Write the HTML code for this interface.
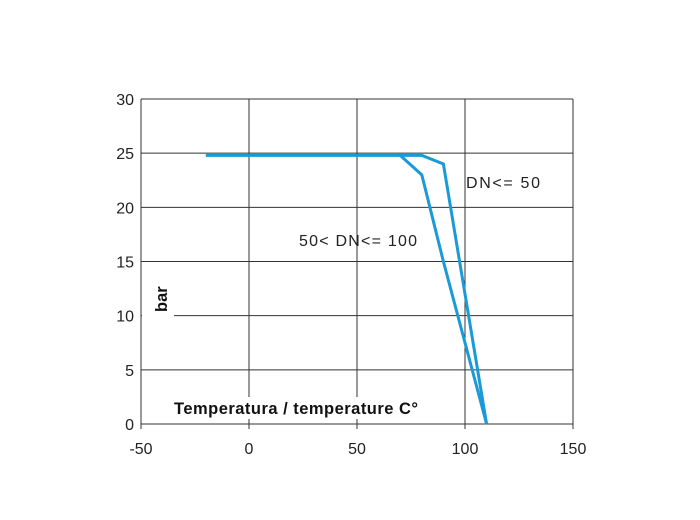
<!DOCTYPE html>
<html><head><meta charset="utf-8"><style>body{margin:0;background:#fff}svg{display:block}</style></head>
<body>
<svg id="chart" width="700" height="520" xmlns="http://www.w3.org/2000/svg" font-family="Liberation Sans, sans-serif">
<g id="grid"></g>
<g id="series"></g>
<g id="labels"></g>
</svg>
<script>
const xTicks=[-50,0,50,100,150];
const yTicks=[0,5,10,15,20,25,30];
const s1x=[-20,80,90,110];
const s1y=[24.8,24.8,24,0];
const s2x=[70,80,90,110];
const s2y=[24.8,23,15,0];
const X=v=>141+(v+50)*2.16;
const Y=v=>424-v*(325/30);
const NS='http://www.w3.org/2000/svg';
function mk(t,a,p){const e=document.createElementNS(NS,t);for(const k in a)e.setAttribute(k,a[k]);p.appendChild(e);return e;}
const g=document.getElementById('grid'),sg=document.getElementById('series'),lg=document.getElementById('labels');
xTicks.forEach(v=>{
 const l=mk('line',{x1:X(v),x2:X(v),y1:Y(30),y2:Y(0)+5,stroke:'#333','stroke-width':1},g);
 
 
 const t=mk('text',{x:X(v),y:454,'text-anchor':'middle','font-size':16,fill:'#222'},lg);
 t.textContent=v;
 
 
});
yTicks.forEach(v=>{
 const l=mk('line',{x1:X(-50),x2:X(150),y1:Y(v),y2:Y(v),stroke:'#333','stroke-width':1},g);
 
 
 const t=mk('text',{x:134,y:Y(v)+6,'text-anchor':'end','font-size':16,fill:'#222'},lg);
 t.textContent=v;
 
 
});
const m1=mk('rect',{x:142,y:280,width:32,height:40,fill:'#fff'},g);


const m2=mk('rect',{x:170,y:397,width:252,height:22,fill:'#fff'},g);


function line(xs,ys,name){
 const p=mk('polyline',{points:xs.map((x,i)=>X(x)+','+Y(ys[i])).join(' '),fill:'none',stroke:'#1a9ad6','stroke-width':3,'stroke-linejoin':'miter'},sg);
 
 
}
line(s2x,s2y,'series-dn-50-100');
line(s1x,s1y,'series-dn-50');
function txt(x,y,s,name,extra){const t=mk('text',Object.assign({x:x,y:y,'font-size':16,fill:'#222'},extra||{}),lg);t.textContent=s;
 
 return t;}
txt(466,188,'DN<= 50','label-dn-50',{textLength:74,lengthAdjust:'spacing'});
txt(299,246,'50< DN<= 100','label-dn-50-100',{textLength:118,lengthAdjust:'spacing'});
txt(174,414,'Temperatura / temperature C°','x-axis-title',{'font-size':16.5,fill:'#111','font-weight':'bold',textLength:244,lengthAdjust:'spacing'});
txt(167,312,'bar','y-axis-title',{transform:'rotate(-90 167 312)','font-size':16.5,fill:'#111','font-weight':'bold'});
</script>
</body></html>
